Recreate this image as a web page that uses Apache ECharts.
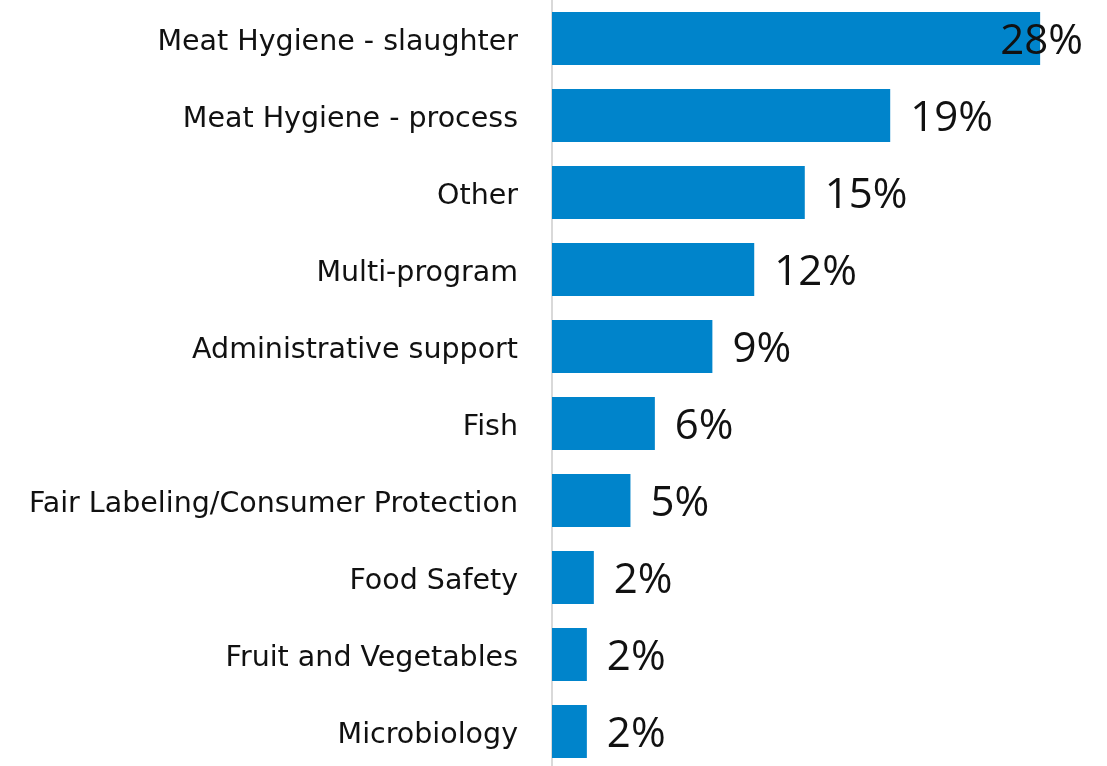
<!DOCTYPE html>
<html lang="en">
<head>
    <meta charset="UTF-8">
    <title>Share by program</title>
    <script src="https://cdn.jsdelivr.net/npm/echarts@6/dist/echarts.min.js"></script>
    <style>
        html, body { margin: 0; padding: 0; background: #fff; }
        #chart { width: 1107px; height: 766px; }
    </style>
</head>
<body>
<div id="chart"></div>
<script type="text/javascript">
    // categories top -> bottom
    var categories = [
        "Meat Hygiene - slaughter",
        "Meat Hygiene - process",
        "Other",
        "Multi-program",
        "Administrative support",
        "Fish",
        "Fair Labeling/Consumer Protection",
        "Food Safety",
        "Fruit and Vegetables",
        "Microbiology"
    ];
    // bar lengths (percent)
    var shares = [28.0, 19.4, 14.5, 11.6, 9.2, 5.9, 4.5, 2.4, 2.0, 2.0];
    // printed labels
    var shareLabels = ["28%", "19%", "15%", "12%", "9%", "6%", "5%", "2%", "2%", "2%"];

    var dom = document.getElementById("chart");
    var myChart = echarts.init(dom);

    var data = [];
    for (var i = 0; i < shares.length; i++) {
        var item = {value: shares[i]};
        if (i == 0) {
            // label pushed back so it stays inside the canvas
            item.label = {offset: [-60, 4]};
        }
        data.push(item);
    }

    var option = {
        animation: false,
        grid: {left: 552, right: 32, top: 0, height: 770, outerBoundsMode: 'none'},
        xAxis: {
            type: 'value',
            min: 0,
            max: 30,
            show: false
        },
        yAxis: {
            type: 'category',
            inverse: true,
            data: categories,
            axisTick: {show: false},
            axisLine: {show: true, lineStyle: {color: '#d9d9d9', width: 2}},
            axisLabel: {
                margin: 34,
                formatter: function (v) {
                    return '{c|' + v + '}';
                },
                rich: {
                    c: {
                        fontSize: 28.5,
                        fontFamily: 'DejaVu Sans',
                        color: '#111',
                        padding: [9, 0, 0, 0]
                    }
                }
            }
        },
        series: [{
            type: 'bar',
            data: data,
            barCategoryGap: '31%',
            itemStyle: {color: '#0084CB'},
            label: {
                show: true,
                position: 'right',
                distance: 20,
                offset: [0, 4],
                fontSize: 42,
                fontFamily: 'Open Sans',
                color: '#111',
                formatter: function (p) {
                    return shareLabels[p.dataIndex];
                }
            }
        }]
    };

    myChart.setOption(option);
</script>
</body>
</html>
